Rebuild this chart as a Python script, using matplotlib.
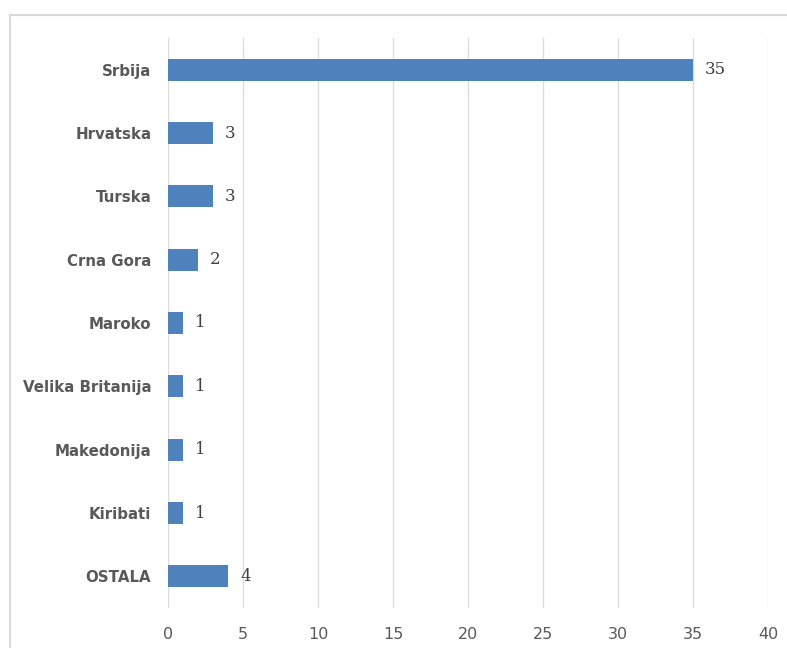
import matplotlib
matplotlib.use("Agg")
import matplotlib.pyplot as plt
from matplotlib.lines import Line2D

countries = ['Srbija', 'Hrvatska', 'Turska', 'Crna Gora', 'Maroko',
             'Velika Britanija', 'Makedonija', 'Kiribati', 'OSTALA']
counts = [35, 3, 3, 2, 1, 1, 1, 1, 4]
x_ticks = [0, 5, 10, 15, 20, 25, 30, 35, 40]

W, H = 787, 648
fig = plt.figure(figsize=(W / 100, H / 100), dpi=100)
ax = fig.add_axes([168 / W, 1 - 608 / H, 600 / W, 570 / H])

pos = list(range(len(countries)))
ax.barh(pos, counts, height=0.35, color='#4F81BD', zorder=3)
for p, v in zip(pos, counts):
    ax.text(v + 0.8, p, str(v), va='center', ha='left', fontsize=12,
            color='#404040', family='DejaVu Serif')

ax.set_xlim(0, 40)
ax.set_ylim(len(countries) - 0.5, -0.5)
ax.set_xticks(x_ticks)
ax.set_yticks(pos)
ax.set_yticklabels(countries, fontsize=10.8, fontweight='semibold', color='#595959')
ax.tick_params(axis='x', labelsize=11.5, labelcolor='#595959', length=0, pad=14)
ax.tick_params(axis='y', length=0, pad=12)
ax.grid(axis='x', color='#DDDDDD', linewidth=1.0, zorder=0)
for s in ax.spines.values():
    s.set_visible(False)

# outer chart border (top and left only visible)
fig.add_artist(Line2D([10 / W, 1], [1 - 15 / H, 1 - 15 / H], color='#D9D9D9', linewidth=1.5,
                      transform=fig.transFigure))
fig.add_artist(Line2D([10 / W, 10 / W], [0, 1 - 15 / H], color='#D9D9D9', linewidth=1.5,
                      transform=fig.transFigure))

fig.savefig('out.png', dpi=100)
